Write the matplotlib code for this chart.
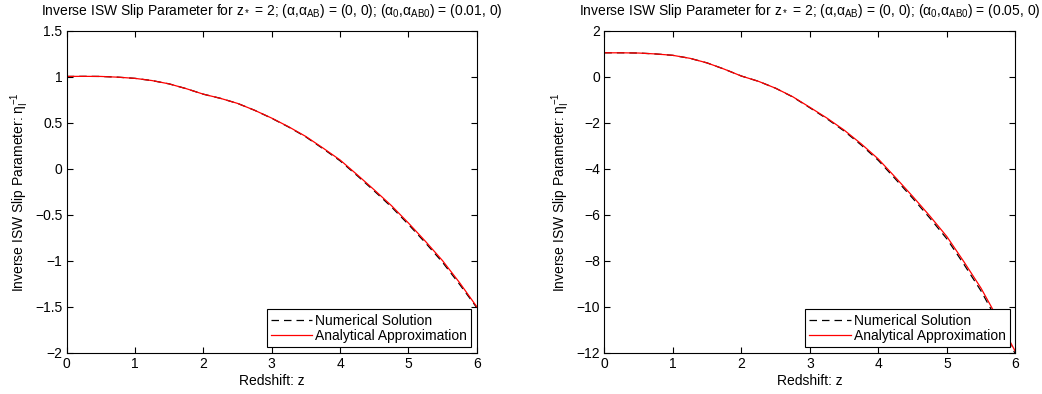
import matplotlib
matplotlib.use("Agg")
import matplotlib.pyplot as plt
from matplotlib.ticker import FuncFormatter

plt.rcParams['font.family'] = ['Liberation Sans', 'DejaVu Sans']
plt.rcParams['mathtext.fontset'] = 'custom'
plt.rcParams['mathtext.rm'] = 'Liberation Sans'
plt.rcParams['mathtext.it'] = 'Liberation Sans'
plt.rcParams['mathtext.bf'] = 'Liberation Sans'
plt.rcParams['font.size'] = 10

# redshift grid (read at 0.25 steps)
z = [0, 0.25, 0.5, 0.75, 1.0, 1.25, 1.5, 1.75, 2.0, 2.25, 2.5, 2.75, 3.0,
     3.25, 3.5, 3.75, 4.0, 4.25, 4.5, 4.75, 5.0, 5.25, 5.5, 5.75, 6.0]

# left panel: alpha0 = 0.01
left_analytic = [1.003, 1.004, 1.003, 0.995, 0.982, 0.958, 0.922, 0.870, 0.810,
                 0.765, 0.710, 0.635, 0.550, 0.455, 0.350, 0.225, 0.095, -0.065,
                 -0.230, -0.400, -0.590, -0.790, -1.000, -1.240, -1.500]
left_numeric = [1.003, 1.004, 1.003, 0.995, 0.982, 0.958, 0.922, 0.870, 0.810,
                0.765, 0.710, 0.635, 0.548, 0.452, 0.345, 0.218, 0.086, -0.075,
                -0.242, -0.414, -0.605, -0.806, -1.018, -1.258, -1.510]

# right panel: alpha0 = 0.05
right_analytic = [1.04, 1.04, 1.03, 0.99, 0.93, 0.80, 0.60, 0.33, 0.03,
                  -0.20, -0.50, -0.87, -1.33, -1.80, -2.32, -2.92, -3.58, -4.38,
                  -5.20, -6.05, -6.95, -8.05, -9.20, -10.55, -11.95]
right_numeric = [1.04, 1.04, 1.03, 0.99, 0.93, 0.80, 0.60, 0.33, 0.03,
                 -0.20, -0.50, -0.88, -1.35, -1.83, -2.36, -2.97, -3.64, -4.45,
                 -5.28, -6.14, -7.05, -8.16, -9.32, -10.68, -12.05]

titles = [
    r'Inverse ISW Slip Parameter for z$_*$ = 2; ($\alpha$,$\alpha_{\rm AB}$) = (0, 0); ($\alpha_{\rm 0}$,$\alpha_{\rm AB0}$) = (0.01, 0)',
    r'Inverse ISW Slip Parameter for z$_*$ = 2; ($\alpha$,$\alpha_{\rm AB}$) = (0, 0); ($\alpha_{\rm 0}$,$\alpha_{\rm AB0}$) = (0.05, 0)',
]
ylims = [(-2, 1.5), (-12, 2)]
yticks = [[-2, -1.5, -1, -0.5, 0, 0.5, 1, 1.5], [-12, -10, -8, -6, -4, -2, 0, 2]]
xticks = [0, 1, 2, 3, 4, 5, 6]

fig = plt.figure(figsize=(10.42, 3.94), dpi=100)
ax1 = fig.add_axes([0.064, 0.105, 0.3935, 0.817])
ax2 = fig.add_axes([0.580, 0.105, 0.3944, 0.817])

fmt = FuncFormatter(lambda v, p: ('%g' % v).replace('-', '\u2212'))

for ax, num, ana, title, yl, yt in zip([ax1, ax2],
                                       [left_numeric, right_numeric],
                                       [left_analytic, right_analytic],
                                       titles, ylims, yticks):
    ax.plot(z, num, color='black', ls=(0, (6, 4)), lw=0.9, label='Numerical Solution')
    ax.plot(z, ana, color='red', lw=0.9, label='Analytical Approximation')
    ax.set_xlim(0, 6)
    ax.set_ylim(*yl)
    ax.set_xticks(xticks)
    ax.set_yticks(yt)
    ax.yaxis.set_major_formatter(fmt)
    ax.tick_params(direction='in', top=True, right=True, length=4, width=0.8, labelsize=10, pad=3)
    for s in ax.spines.values():
        s.set_linewidth(0.8)
    ax.set_title(title, fontsize=10, pad=11)
    ax.set_xlabel('Redshift: z', fontsize=10, labelpad=2)
    ax.set_ylabel(r'Inverse ISW Slip Parameter: $\eta_{\rm I}^{-1}$', fontsize=10, labelpad=3)
    leg = ax.legend(loc='lower right', fontsize=10, frameon=True, fancybox=False,
                    edgecolor='black', framealpha=1, borderaxespad=0.4,
                    handlelength=3.0, handletextpad=0.2, borderpad=0.3,
                    labelspacing=0.1)
    leg.get_frame().set_linewidth(0.8)

fig.savefig('out.png', dpi=100)
